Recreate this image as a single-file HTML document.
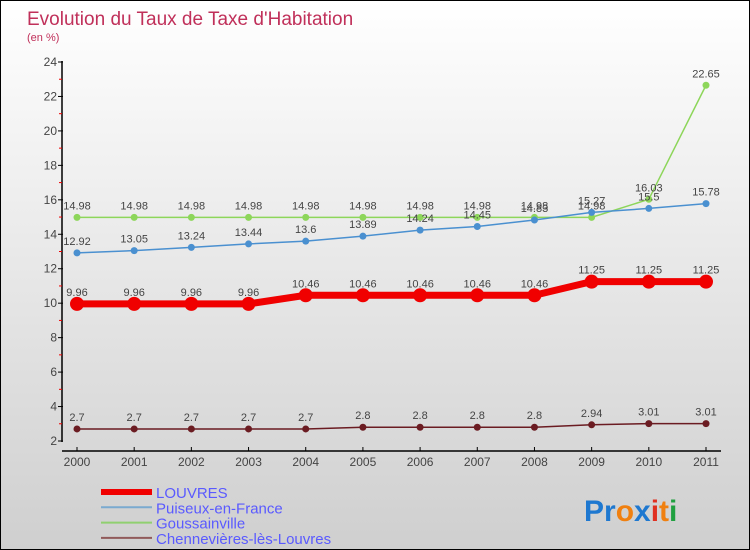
<!DOCTYPE html>
<html><head><meta charset="utf-8"><style>
body{margin:0}
#wrap{width:750px;height:550px;position:relative;overflow:hidden;box-sizing:border-box;border:1px solid #000;background:linear-gradient(#fff,#cfcfcf);font-family:"Liberation Sans",sans-serif}
svg{position:absolute;left:0;top:0}
</style></head><body>
<div id="wrap">
<svg id="chart" width="750" height="550">
<text x="26" y="24" font-size="19" fill="#c0305a">Evolution du Taux de Taxe d'Habitation</text>
<text x="26" y="40" font-size="11" fill="#c0305a">(en %)</text>
<g id="axes"></g><g id="series"></g><g id="legend"></g>
<text x="583" y="520" font-size="30" font-weight="bold"><tspan fill="#1e78d0">Pr</tspan><tspan fill="#f08010">o</tspan><tspan fill="#1e78d0">x</tspan><tspan fill="#e03020">i</tspan><tspan fill="#f08010">t</tspan><tspan fill="#20a040">i</tspan></text>
</svg>
</div>
<script>
const years=[2000,2001,2002,2003,2004,2005,2006,2007,2008,2009,2010,2011];
const louvres=[9.96,9.96,9.96,9.96,10.46,10.46,10.46,10.46,10.46,11.25,11.25,11.25];
const puiseux=[12.92,13.05,13.24,13.44,13.6,13.89,14.24,14.45,14.83,15.27,15.5,15.78];
const gouss=[14.98,14.98,14.98,14.98,14.98,14.98,14.98,14.98,14.98,14.98,16.03,22.65];
const chenn=[2.7,2.7,2.7,2.7,2.7,2.8,2.8,2.8,2.8,2.94,3.01,3.01];
const yTicks=[2,4,6,8,10,12,14,16,18,20,22,24];
const NS="http://www.w3.org/2000/svg";
const x=i=>76+i*(705-76)/11;
const y=v=>440-(v-2)*(379/22);
function mk(t,a,p){const e=document.createElementNS(NS,t);for(const k in a)e.setAttribute(k,a[k]);p.appendChild(e);return e;}
const ax=document.getElementById('axes');
let l=mk('line',{x1:61,y1:60,x2:61,y2:441,stroke:'#000','stroke-width':1.5},ax);


l=mk('line',{x1:61,y1:450,x2:720,y2:450,stroke:'#000','stroke-width':1.5},ax);


yTicks.forEach(v=>{
  mk('line',{x1:57,x2:62,y1:y(v),y2:y(v),stroke:'#000'},ax);
  if(v<24) mk('line',{x1:58,x2:61,y1:y(v+1),y2:y(v+1),stroke:'#e00'},ax);
  const t=mk('text',{x:56,y:y(v)+4,'font-size':12,fill:'#444','text-anchor':'end'},ax);t.textContent=v;
  
  
});
years.forEach((yr,i)=>{
  mk('line',{x1:x(i),x2:x(i),y1:446,y2:450,stroke:'#000'},ax);
  const t=mk('text',{x:x(i),y:465,'font-size':12,fill:'#444','text-anchor':'middle'},ax);t.textContent=yr;
  
  
});
const sg=document.getElementById('series');
function draw(vals,col,w,r,name){
  const g=mk('g',{},sg);
  
  
  mk('polyline',{points:vals.map((v,i)=>x(i)+','+y(v)).join(' '),fill:'none',stroke:col,'stroke-width':w},g);
  vals.forEach((v,i)=>{
    const c=mk('circle',{cx:x(i),cy:y(v),r:r,fill:col},g);
    
    
    const t=mk('text',{x:x(i),y:y(v)-8,'font-size':11,fill:'#444','text-anchor':'middle'},g);t.textContent=v;
  });
}
draw(gouss,'#8dd65a',1.5,3.5,'goussainville');
draw(puiseux,'#4a90d0',1.5,3.5,'puiseux');
draw(louvres,'#f00000',7,7,'louvres');
draw(chenn,'#6b1c22',1.5,3.5,'chennevieres');
const lg=document.getElementById('legend');
[['LOUVRES','#f00000',6],['Puiseux-en-France','#7aaad0',2],['Goussainville','#90d070',2],['Chennevières-lès-Louvres','#905a5a',2]].forEach((d,i)=>{
  const yy=491+i*15.3;
  const g=mk('g',{},lg);
  
  
  mk('line',{x1:100,x2:151,y1:yy,y2:yy,stroke:d[1],'stroke-width':d[2]},g);
  const t=mk('text',{x:155,y:yy+6,'font-size':15,fill:'#5a5aff'},g);t.textContent=d[0];
});
</script>
</body></html>
